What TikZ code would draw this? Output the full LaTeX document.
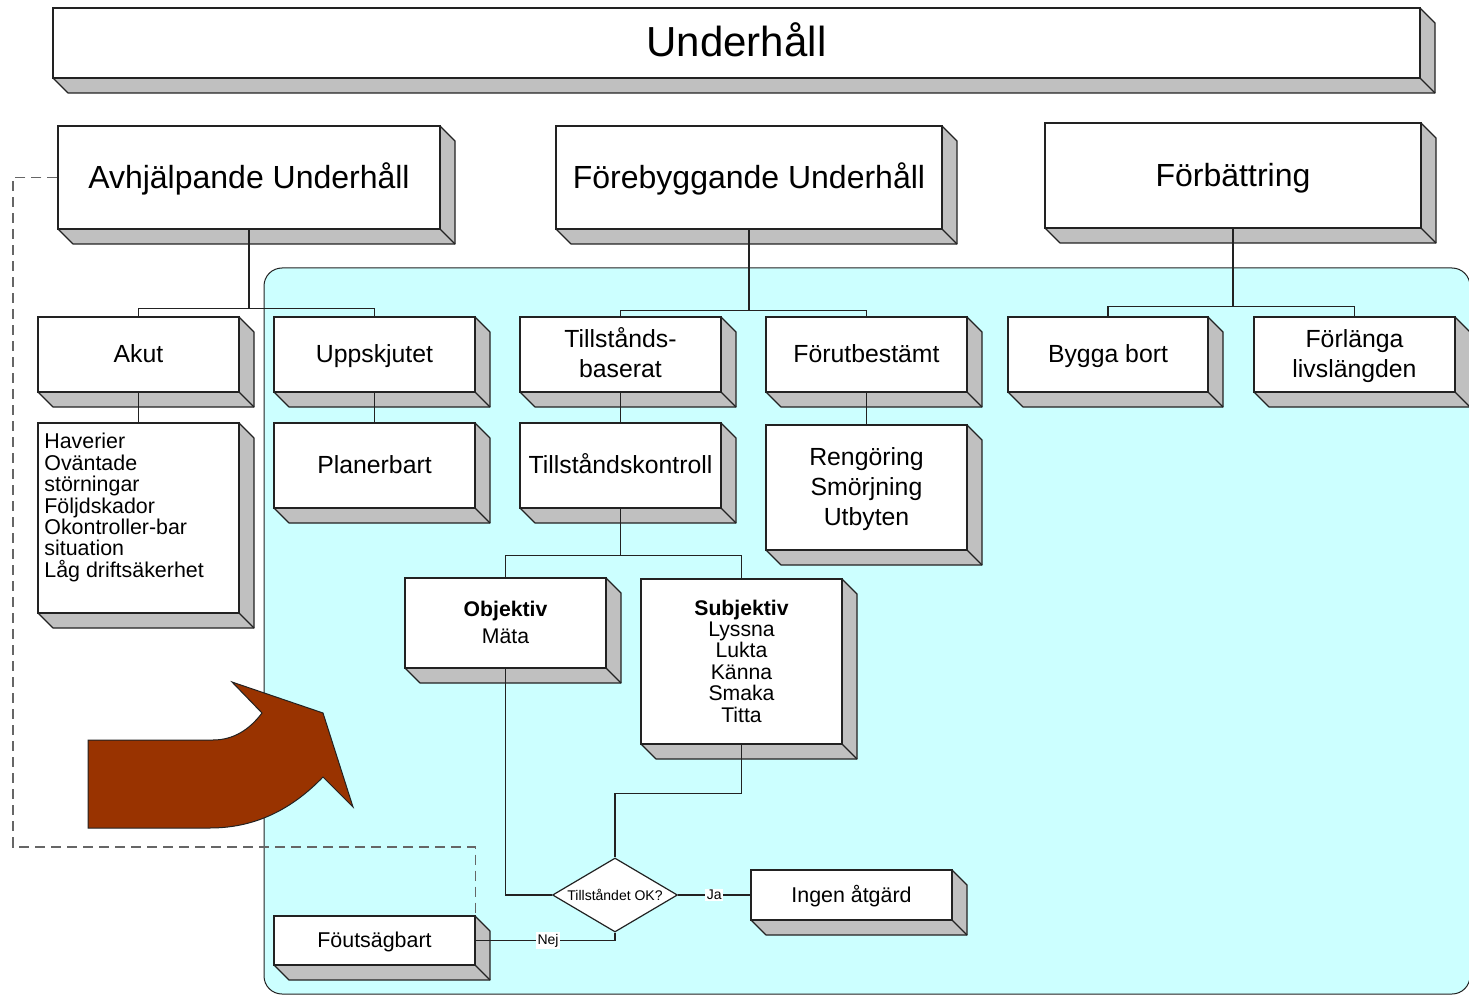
\documentclass[tikz,border=0pt]{standalone}
\usepackage{fontspec}
\setmainfont{Liberation Sans}
\usetikzlibrary{shapes.geometric}
\definecolor{facegray}{HTML}{C0C0C0}
\definecolor{linecol}{HTML}{222222}
\definecolor{cyanbg}{HTML}{CCFFFF}
\definecolor{arrowbrown}{HTML}{993300}
\definecolor{dashcol}{HTML}{666666}
\tikzset{
  face/.style={fill=facegray, draw=linecol, line width=0.6pt, line join=round},
  front/.style={draw=linecol, fill=white, line width=0.6pt, inner sep=0pt, align=center},
  conn/.style={draw=linecol, line width=0.65pt},
  dsh/.style={draw=dashcol, line width=0.6pt, dash pattern=on 5pt off 3pt},
  fhuge/.style={font=\fontsize{21}{25}\selectfont},
  fbig/.style={font=\fontsize{16}{19}\selectfont},
  fmid/.style={font=\fontsize{12.4}{15}\selectfont},
  fsmall/.style={font=\fontsize{10.7}{10.7}\selectfont},
  lbl/.style={fill=white, inner sep=0.8pt, font=\fontsize{7}{8}\selectfont},
}
\newcommand{\bstrut}{\vphantom{Åg}}
% #1 options, #2 name, #3 x1, #4 y1, #5 x2, #6 y2, #7 text
\newcommand{\tdbox}[7][]{%
  \filldraw[face] (#3,#6) -- ({#3+15},{#6+15}) -- ({#5+15},{#6+15}) -- ({#5+15},{#4+15}) -- (#5,#4) -- (#5,#6) -- cycle;
  \draw[face] (#5,#6) -- ({#5+15},{#6+15});
  \node[front, minimum width={(#5-#3)*0.5pt}, minimum height={(#6-#4)*0.5pt}, #1] (#2) at ({(#3+#5)/2},{(#4+#6)/2}) {\bstrut#7\bstrut};
}
\begin{document}
\begin{tikzpicture}[x=0.5pt, y=-0.5pt]
\useasboundingbox (0,0) rectangle (1469,995);
% cyan region
\filldraw[fill=cyanbg, draw=linecol, line width=0.5pt, rounded corners=9pt] (264,268) rectangle (1470,994);

% boxes
\tdbox[fhuge]{top}{53}{8}{1420}{78}{Underhåll}
\tdbox[fbig]{avh}{58}{126}{440}{229}{Avhjälpande Underhåll}
\tdbox[fbig]{fore}{556}{126}{942}{229}{Förebyggande Underhåll}
\tdbox[fbig]{forb}{1045}{123}{1421}{228}{Förbättring}
\tdbox[fmid]{akut}{38}{317}{239}{392}{Akut}
\tdbox[fmid]{upp}{274}{317}{475}{392}{Uppskjutet}
\tdbox[fmid]{tb}{520}{317}{721}{392}{Tillstånds-\\baserat}
\tdbox[fmid]{fb}{766}{317}{967}{392}{Förutbestämt}
\tdbox[fmid]{bb}{1008}{317}{1208}{392}{Bygga bort}
\tdbox[fmid]{fl}{1254}{317}{1455}{392}{Förlänga\\livslängden}
\tdbox{hav}{38}{423}{239}{613}{}
\node[fsmall, align=left, inner sep=0pt, anchor=north west] (havtext) at (44,433)
  {Haverier\\Oväntade\\störningar\\Följdskador\\Okontroller-bar\\situation\\Låg driftsäkerhet};
\tdbox[fmid]{plan}{274}{423}{475}{508}{Planerbart}
\tdbox[fmid]{tk}{520}{423}{721}{508}{Tillståndskontroll}
\tdbox[fmid]{reng}{766}{425}{967}{550}{Rengöring\\Smörjning\\Utbyten}
\tdbox[font=\fontsize{10.6}{13.3}\selectfont]{obj}{405}{578}{606}{668}{\textbf{Objektiv}\\Mäta}
\tdbox[font=\fontsize{10.6}{10.7}\selectfont]{subj}{641}{579}{842}{744}{\textbf{Subjektiv}\\Lyssna\\Lukta\\Känna\\Smaka\\Titta}
\tdbox[fsmall]{ingen}{751}{870}{952}{920}{Ingen åtgärd}
\tdbox[fsmall]{fout}{274}{916}{475}{965}{Föutsägbart}

% decision diamond
\node[diamond, draw=linecol, fill=white, line width=0.6pt, inner sep=0pt, aspect=1.69,
      minimum width=62.5pt, minimum height=37pt, font=\fontsize{7}{8}\selectfont] (dia) at (615,895) {Tillståndet OK?};

% tree connectors
\draw[conn] (avh.south) -- ++(0,79) -| (akut.north);
\draw[conn] (avh.south) -- ++(0,79) -| (upp.north);
\draw[conn] (fore.south) -- ++(0,81) -| (tb.north);
\draw[conn] (fore.south) -- ++(0,81) -| (fb.north);
\draw[conn] (forb.south) -- ++(0,78) -| (bb.north);
\draw[conn] (forb.south) -- ++(0,78) -| (fl.north);
\draw[conn] (akut.south) -- (hav.north);
\draw[conn] (upp.south) -- (plan.north);
\draw[conn] (tb.south) -- (tk.north);
\draw[conn] (fb.south) -- (reng.north);
\draw[conn] (tk.south) -- ++(0,47) -| (obj.north);
\draw[conn] (tk.south) -- ++(0,47) -| (subj.north);
\draw[conn] (obj.south) |- (dia.west);
\draw[conn] (subj.south) -- ++(0,49) -| (dia.north);
\draw[conn] (dia.east) -- node[lbl] (ja) {Ja} (ingen.west);
\draw[conn] (dia.south) |- node[lbl, pos=0.74] (nej) {Nej} (fout.east);

% dashed feedback line
\draw[dsh] (avh.west) -| (13,847) -| (fout.north east);

% big curved arrow
\filldraw[fill=arrowbrown, draw=linecol, line width=0.5pt, line join=miter]
  (88,740) -- (213,740) .. controls (234,740) and (250,729) .. (262,713)
  -- (232,682) -- (323,713) -- (353,807) -- (323,777)
  .. controls (296,805) and (260,828) .. (210,828) -- (88,828) -- cycle;
\end{tikzpicture}
\end{document}
